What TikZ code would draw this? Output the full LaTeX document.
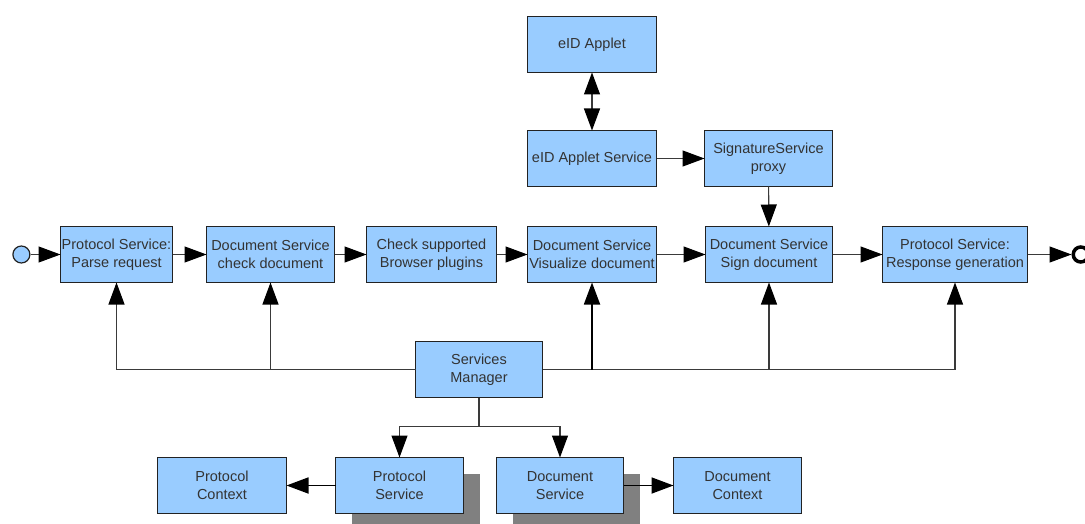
\documentclass[tikz,border=0pt]{standalone}
\usepackage{fontspec}
\setmainfont{Liberation Sans}
\usepackage{tikz}
\usetikzlibrary{arrows.meta}
\usetikzlibrary{positioning}
\usetikzlibrary{shadows}
\usepackage{xcolor}
\definecolor{boxblue}{HTML}{99CCFF}
\definecolor{boxline}{HTML}{222222}
\definecolor{boxtext}{HTML}{333333}
\definecolor{wiregray}{HTML}{3A3A3A}
\definecolor{shadowgray}{HTML}{808080}

\begin{document}
\begin{tikzpicture}
		\tikzstyle{block} = [rectangle, draw=boxline, line width=1.2pt, fill=boxblue, text=boxtext,
		minimum width=129pt, minimum height=56pt, inner sep=0pt, outer sep=0pt, align=center,
		font=\fontsize{14.5}{18}\selectfont]
		\tikzstyle{shadowblock} = [block, drop shadow={shadow xshift=16pt, shadow yshift=-16pt, fill=shadowgray, opacity=1}]
		\tikzstyle{arline} = [draw=wiregray, line width=1.1pt, -{Triangle[length=22pt, width=16pt, black]}]
		\tikzstyle{plainline} = [draw=wiregray, line width=1.1pt]

		\useasboundingbox (0,0) rectangle (1085pt,-524pt);

		% Main row
		\node [block, minimum width=112pt] (parse) at (116.5pt,-254.5pt) {Protocol Service:\\Parse request};
		\node [block, right=34pt of parse, minimum width=128pt] (check) {Document Service\\check document};
		\node [block, right=32pt of check, minimum width=130pt] (plugins) {Check supported\\Browser plugins};
		\node [block, right=31pt of plugins] (visual) {Document Service\\Visualize document};
		\node [block, right=49pt of visual, minimum width=127pt] (sign) {Document Service\\Sign document};
		\node [block, right=50pt of sign, minimum width=145pt] (response) {Protocol Service:\\Response generation};

		% Start and end
		\node [circle, draw=boxline, line width=1.2pt, fill=boxblue, minimum size=17pt, inner sep=0pt, left=30pt of parse] (start) {};
		\node [circle, draw=black, line width=3.5pt, fill=white, minimum size=15pt, inner sep=0pt, right=44pt of response] (finish) {};

		% eID applet
		\node [block, above=40pt of visual] (appletsrv) {eID Applet Service};
		\node [block, above=58pt of appletsrv] (applet) {eID Applet};
		\node [block, right=48pt of appletsrv, minimum width=128pt] (proxy) {SignatureService\\proxy};

		% Services manager
		\node [block, below=59pt of plugins, xshift=47.5pt, minimum width=127pt] (manager) {Services\\Manager};

		% Services and contexts
		\node [shadowblock, below=60pt of manager, xshift=-79.5pt, minimum width=128pt] (protosrv) {Protocol\\Service};
		\node [shadowblock, right=33pt of protosrv, minimum width=127pt] (docsrv) {Document\\Service};
		\node [block, left=49pt of protosrv] (protoctx) {Protocol\\Context};
		\node [block, right=50pt of docsrv, minimum width=128pt] (docctx) {Document\\Context};
		\coordinate [below=29pt of manager.south] (fork);

		% arrows
		\draw [arline] (start) -- (parse);
		\draw [arline] (parse) -- (check);
		\draw [arline] (check) -- (plugins);
		\draw [arline] (plugins) -- (visual);
		\draw [arline] (visual) -- (sign);
		\draw [arline] (sign) -- (response);
		\draw [arline] (response) -- (finish);
		%
		\draw [arline, {Triangle[length=22pt, width=16pt, black]}-{Triangle[length=22pt, width=16pt, black]}] (applet) -- (appletsrv);
		\draw [arline] (appletsrv) -- (proxy);
		\draw [arline] (proxy) -- (sign);
		%
		\draw [arline] (manager.west) -| (parse.south);
		\draw [arline] (manager.west) -| (check.south);
		\draw [arline] (manager.east) -| (sign.south);
		\draw [arline] (manager.east) -| (response.south);
		\draw [arline, line width=1.8pt, draw=black] (manager.east -| visual.south) -- (visual.south);
		%
		\draw [plainline] (manager.south) -- (fork);
		\draw [arline] (fork) -| (protosrv.north);
		\draw [arline] (fork) -| (docsrv.north);
		\draw [arline, line width=1.8pt, draw=black] (protosrv) -- (protoctx);
		\draw [arline, line width=1.8pt, draw=black] (docsrv) -- (docctx);

	\end{tikzpicture}
\end{document}
